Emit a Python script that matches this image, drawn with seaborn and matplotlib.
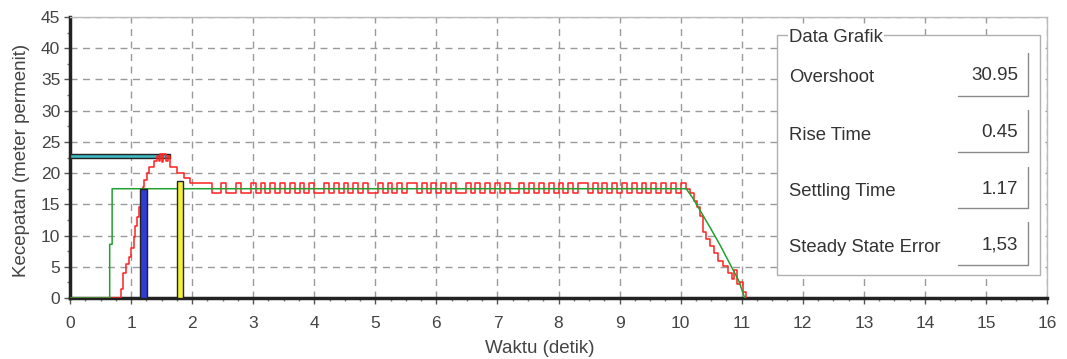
import matplotlib
matplotlib.use("Agg")
import matplotlib.pyplot as plt
from matplotlib.patches import Rectangle
from matplotlib.lines import Line2D
from matplotlib.ticker import MultipleLocator
import pandas as pd
import seaborn as sns

# setpoint (green)
set_t = [0.0, 0.65, 0.65, 0.69, 0.69, 10.09, 10.20, 10.35, 10.50, 10.65, 10.80, 10.95, 11.05]
set_v = [0.0, 0.0, 8.6, 8.6, 17.5, 17.5, 16.0, 13.5, 11.0, 8.4, 5.6, 2.8, 0.0]

# response (red), drawn as steps
rise_t = [0.00, 0.84, 0.87, 0.92, 0.96, 1.00, 1.04, 1.07, 1.10, 1.13, 1.16, 1.19,
          1.22, 1.26, 1.29, 1.37, 1.42, 1.46, 1.48, 1.51, 1.53, 1.57, 1.60, 1.64,
          1.76, 1.87, 1.96]
rise_v = [0.0, 1.5, 4.0, 5.5, 6.6, 8.0, 9.8, 11.5, 13.0, 14.6, 16.5, 17.8,
          18.9, 20.0, 21.0, 22.0, 22.8, 22.0, 23.0, 21.8, 23.0, 22.0, 22.8, 21.0,
          20.0, 19.2, 18.4]
hold_t = [2.16, 2.24, 2.32, 2.40, 2.48, 2.56, 2.64, 2.72, 2.80, 2.88,
          2.96, 3.04, 3.12, 3.20, 3.28, 3.36, 3.44, 3.52, 3.60, 3.68,
          3.76, 3.84, 3.92, 4.00, 4.08, 4.16, 4.24, 4.32, 4.40, 4.48,
          4.56, 4.64, 4.72, 4.80, 4.88, 4.96, 5.04, 5.12, 5.20, 5.28,
          5.36, 5.44, 5.52, 5.60, 5.68, 5.76, 5.84, 5.92, 6.00, 6.08,
          6.16, 6.24, 6.32, 6.40, 6.48, 6.56, 6.64, 6.72, 6.80, 6.88,
          6.96, 7.04, 7.12, 7.20, 7.28, 7.36, 7.44, 7.52, 7.60, 7.68,
          7.76, 7.84, 7.92, 8.00, 8.08, 8.16, 8.24, 8.32, 8.40, 8.48,
          8.56, 8.64, 8.72, 8.80, 8.88, 8.96, 9.04, 9.12, 9.20, 9.28,
          9.36, 9.44, 9.52, 9.60, 9.68, 9.76, 9.84, 9.92, 10.00, 10.08]
hold_v = [18.4, 18.4, 16.8, 16.8, 18.4, 16.8, 16.8, 18.4, 16.8, 16.8,
          18.4, 16.8, 18.4, 16.8, 18.4, 16.8, 18.4, 16.8, 18.4, 16.8,
          18.4, 16.8, 18.4, 16.8, 16.8, 18.4, 16.8, 18.4, 16.8, 18.4,
          16.8, 18.4, 16.8, 18.4, 16.8, 16.8, 18.4, 16.8, 18.4, 16.8,
          18.4, 16.8, 18.4, 18.4, 16.8, 18.4, 16.8, 18.4, 16.8, 18.4,
          16.8, 18.4, 16.8, 16.8, 18.4, 16.8, 18.4, 16.8, 18.4, 16.8,
          18.4, 16.8, 18.4, 16.8, 16.8, 18.4, 16.8, 18.4, 16.8, 18.4,
          16.8, 18.4, 16.8, 18.4, 16.8, 18.4, 16.8, 18.4, 18.4, 16.8,
          18.4, 16.8, 18.4, 16.8, 18.4, 16.8, 18.4, 16.8, 18.4, 16.8,
          18.4, 16.8, 18.4, 16.8, 18.4, 16.8, 18.4, 16.8, 18.4, 17.5]
fall_t = [10.15, 10.22, 10.27, 10.31, 10.36, 10.42, 10.48, 10.55, 10.62, 10.70,
          10.78, 10.84, 10.88, 10.93, 10.97, 11.02, 11.07]
fall_v = [16.8, 15.5, 14.5, 13.2, 10.5, 9.5, 8.3, 7.2, 6.0, 5.2,
          4.0, 3.0, 4.5, 2.2, 2.6, 1.0, 0.0]

# markers: reference band, rise time bar, settling time bar
ref_level = 22.75
ref_end = 1.64
rise_bar_t, rise_bar_v = 1.205, 17.5
settle_bar_t, settle_bar_v = 1.805, 18.8

panel_title = "Data Grafik"
panel_labels = ["Overshoot", "Rise Time", "Settling Time", "Steady State Error"]
panel_values = ["30.95", "0.45", "1.17", "1,53"]

sns.set_style("white")
plt.rcParams["font.family"] = ["Liberation Sans", "DejaVu Sans"]

fig = plt.figure(figsize=(10.67, 3.59), dpi=100)
ax = fig.add_axes([70 / 1067, 61 / 359, 977 / 1067, 281 / 359])

red = pd.DataFrame({"t": rise_t + hold_t + fall_t, "v": rise_v + hold_v + fall_v})
green = pd.DataFrame({"t": set_t, "v": set_v})

ax.barh(ref_level, ref_end, height=0.75, left=0, color="#3fb9c2",
        edgecolor="#222222", linewidth=1.0, zorder=3)
sns.lineplot(data=red, x="t", y="v", color="#ff2020", linewidth=1.1,
             drawstyle="steps-post", estimator=None, sort=False, ax=ax, zorder=4)
sns.lineplot(data=green, x="t", y="v", color="#22a030", linewidth=1.1,
             estimator=None, sort=False, ax=ax, zorder=5)
ax.bar(rise_bar_t, rise_bar_v, width=0.12, color="#2f3cd6",
       edgecolor="#222222", linewidth=1.0, zorder=6)
ax.bar(settle_bar_t, settle_bar_v, width=0.1, color="#f4f03a",
       edgecolor="#222222", linewidth=1.0, zorder=6)

ax.set_xlim(0, 16)
ax.set_ylim(0, 45)
ax.xaxis.set_major_locator(MultipleLocator(1))
ax.xaxis.set_minor_locator(MultipleLocator(0.25))
ax.yaxis.set_major_locator(MultipleLocator(5))
ax.yaxis.set_minor_locator(MultipleLocator(2.5))
ax.grid(True, which="major", color="#9a9a9a", linestyle=(0, (5, 4)), linewidth=1.0)
ax.set_axisbelow(True)
ax.tick_params(which="major", direction="out", length=4, width=1, color="#555555",
               labelsize=12.5, labelcolor="#444444", pad=9, bottom=True, left=True)
ax.tick_params(which="minor", direction="out", length=2.5, width=1, color="#777777",
               bottom=True, left=True)
ax.tick_params(axis="y", pad=3)

for s in ["left", "bottom"]:
    ax.spines[s].set_color("#222222")
    ax.spines[s].set_linewidth(2.5)
for s in ["top", "right"]:
    ax.spines[s].set_color("#bbbbbb")
    ax.spines[s].set_linewidth(1.0)

ax.set_xlabel("Waktu (detik)", fontsize=13.5, color="#444444")
ax.set_ylabel("Kecepatan (meter permenit)", fontsize=13.5, color="#444444")
ax.xaxis.set_label_coords(0.481, -0.148)
ax.yaxis.set_label_coords(-0.041, 0.49)


# info panel in pixel coordinates
def fx(x):
    return x / 1067


def fy(y):
    return 1 - y / 359


tf = fig.transFigure
fig.add_artist(Rectangle((fx(777), fy(275)), fx(1040) - fx(777), fy(35) - fy(275),
                         transform=tf, facecolor="white", edgecolor="#b0b0b0",
                         linewidth=1.0, zorder=10))
fig.text(fx(789), fy(37), panel_title, transform=tf, fontsize=13.4, color="#333333",
         ha="left", va="center", zorder=12,
         bbox=dict(facecolor="white", edgecolor="none", pad=0.5))
label_y = [78, 135, 191, 247]
box_top = [53, 110, 167, 222]
box_bot = [96, 152, 208, 265]
for lab, val, ly, bt, bb in zip(panel_labels, panel_values, label_y, box_top, box_bot):
    fig.text(fx(789), fy(ly), lab, transform=tf, fontsize=13.3, color="#333333",
             ha="left", va="center", zorder=12)
    fig.text(fx(1018), fy(ly - 2), val, transform=tf, fontsize=13.5, color="#333333",
             ha="right", va="center", zorder=12)
    fig.add_artist(Line2D([fx(958), fx(1028), fx(1028)], [fy(bb), fy(bb), fy(bt)],
                          transform=tf, color="#8a8a8a", linewidth=1.0, zorder=11))

fig.savefig("out.png", dpi=100)
